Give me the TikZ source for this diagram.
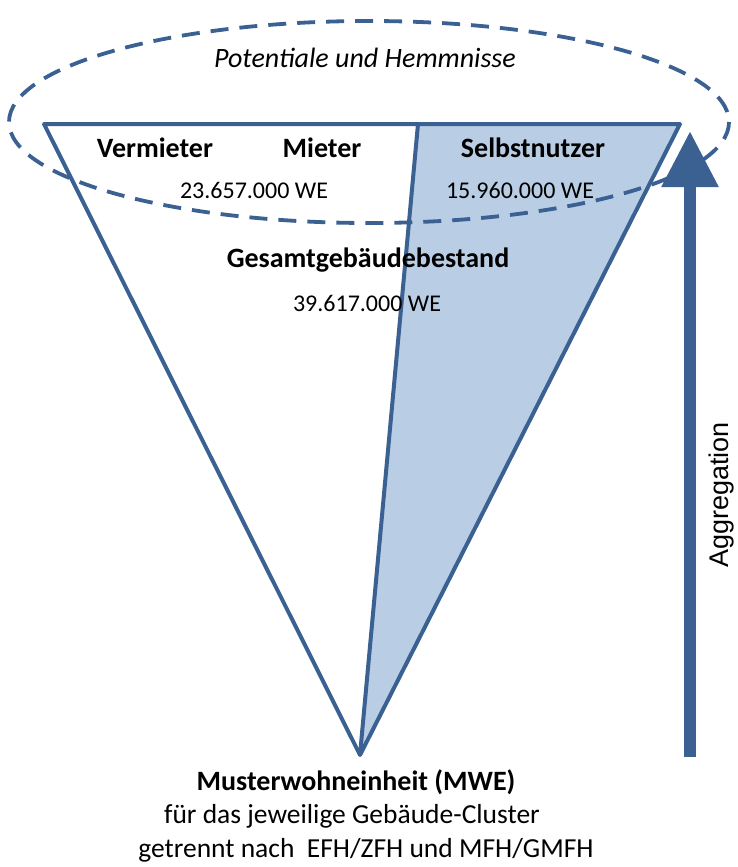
\documentclass[tikz,border=0pt]{standalone}
\usepackage{fontspec}
\setmainfont{Carlito}
\newfontfamily\arialfont{Liberation Sans}
\usetikzlibrary{arrows.meta}
\definecolor{dblue}{RGB}{58,97,145}
\definecolor{lblue}{RGB}{185,205,229}
\begin{document}
\begin{tikzpicture}[x=1pt,y=-1pt,
  edge/.style={draw=dblue,line width=4pt,line join=round},
  lbl/.style={inner sep=0pt,font=\fontsize{28}{32}\selectfont\bfseries},
  num/.style={inner sep=0pt,font=\fontsize{24}{28}\selectfont},
  btm/.style={inner sep=0pt,font=\fontsize{27.5}{32}\selectfont}]
\useasboundingbox (0,0) rectangle (737,867);
\coordinate (TL) at (44,124);
\coordinate (TR) at (680,124);
\coordinate (D) at (418,124);
\coordinate (B) at (360,755);
\fill[lblue] (D) -- (TR) -- (B) -- cycle;
\draw[edge] (TL) -- (TR) -- (B) -- cycle;
\draw[edge] (D) -- (B);
\coordinate (EC) at (369,122);
\draw[dblue,line width=3.8pt,dash pattern=on 18pt off 11pt] (EC) ellipse [x radius=360,y radius=101];
\coordinate (abot) at (690,757);
\coordinate (atop) at (690,131);
\draw[white,line width=22pt] (690,150) -- (atop);
\draw[dblue,line width=12pt,-{Triangle[width=54pt,length=56pt]}] (abot) -- (atop);
\node[inner sep=0pt,rotate=90,font=\arialfont\fontsize{27}{30}\selectfont] (agg) at (722,495) {Aggregation};
\node[inner sep=0pt,font=\fontsize{28}{32}\selectfont\itshape] (pot) at (365,58) {Potentiale und Hemmnisse};
\node[lbl] (verm) at (155,148) {Vermieter};
\node[lbl] (miet) at (322,148) {Mieter};
\node[lbl] (selb) at (533,148) {Selbstnutzer};
\node[num] (n1) at (254,190) {23.657.000 WE};
\node[num] (n2) at (520,190) {15.960.000 WE};
\node[lbl] (ges) at (368,260) {Gesamtgebäudebestand};
\node[num] (n3) at (367,303) {39.617.000 WE};
\node[lbl] (mwe) at (356,782) {Musterwohneinheit (MWE)};
\node[btm] (fur) at (352,816) {für das jeweilige Gebäude-Cluster};
\node[btm] (getr) at (366,850) {getrennt nach\ \ EFH/ZFH und MFH/GMFH};
\end{tikzpicture}
\end{document}
